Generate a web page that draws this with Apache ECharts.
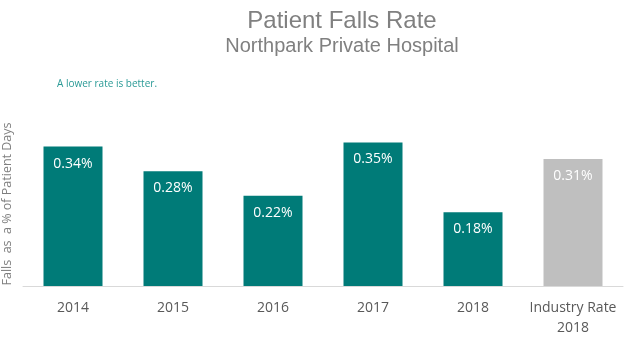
<!DOCTYPE html>
<html>
<head>
<meta charset="utf-8">
<script src="https://cdn.jsdelivr.net/npm/echarts@6/dist/echarts.min.js"></script>
<style>
html,body{margin:0;padding:0;background:#fff;}
#chart{width:643px;height:347px;}
</style>
</head>
<body>
<div id="chart"></div>
<script>
var categories = ['2014', '2015', '2016', '2017', '2018', 'Industry Rate\n2018'];
var fallsRate = [0.34, 0.28, 0.22, 0.35, 0.18, 0.31];
var benchmarkCategory = 'Industry Rate\n2018';
var titleText = 'Patient Falls Rate';
var subtitleText = 'Northpark Private Hospital';
var noteText = 'A lower rate is better.';
var yAxisName = 'Falls  as  a % of Patient Days';

var chart = echarts.init(document.getElementById('chart'), null, {renderer: 'canvas'});
var baseFont = '"Open Sans", "Liberation Sans", sans-serif';
chart.setOption({
  animation: false,
  backgroundColor: '#ffffff',
  title: [
    {
      text: titleText,
      subtext: subtitleText,
      left: 337,
      top: 4,
      textAlign: 'center',
      itemGap: 3,
      textStyle: {fontFamily: '"Liberation Sans", sans-serif', fontSize: 24, fontWeight: 'normal', color: '#808080'},
      subtextStyle: {fontFamily: '"Liberation Sans", sans-serif', fontSize: 20, color: '#808080'}
    },
    {
      text: noteText,
      left: 52,
      top: 74,
      textStyle: {fontFamily: baseFont, fontSize: 10, fontWeight: 'normal', color: '#2a9a96'}
    }
  ],
  grid: {left: 23, right: 20, top: 122, bottom: 61, containLabel: false, outerBoundsMode: 'none'},
  xAxis: {
    type: 'category',
    data: categories,
    axisLine: {show: true, lineStyle: {color: '#d9d9d9', width: 1}},
    axisTick: {show: false},
    axisLabel: {color: '#595959', fontSize: 14, fontFamily: baseFont, margin: 12, lineHeight: 20, interval: 0}
  },
  yAxis: {
    type: 'value',
    min: 0,
    max: 0.4,
    name: yAxisName,
    nameLocation: 'middle',
    nameGap: 9,
    nameRotate: 90,
    nameTextStyle: {color: '#7f7f7f', fontSize: 12.5, fontFamily: baseFont},
    axisLine: {show: false},
    axisTick: {show: false},
    axisLabel: {show: false},
    splitLine: {show: false}
  },
  series: [{
    type: 'bar',
    data: fallsRate,
    barWidth: '59%',
    itemStyle: {
      color: function (p) { return p.name === benchmarkCategory ? '#bfbfbf' : '#007b78'; }
    },
    label: {
      show: true,
      position: 'insideTop',
      distance: 10,
      fontSize: 14,
      fontFamily: baseFont,
      formatter: function (p) { return p.value.toFixed(2) + '%'; },
      color: '#ffffff'
    }
  }]
});
</script>
</body>
</html>
